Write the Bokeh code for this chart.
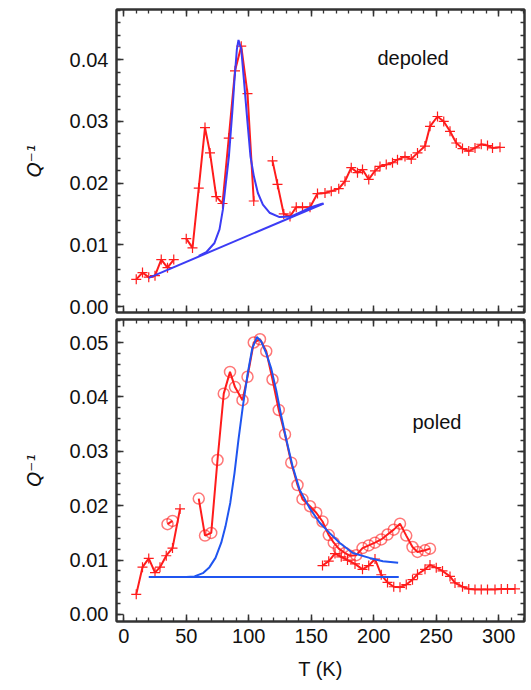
from bokeh.plotting import figure
from bokeh.layouts import column
from bokeh.models import (LinearAxis, SingleIntervalTicker, PrintfTickFormatter,
                          CustomJSTickFormatter, Range1d, Label)
from bokeh.embed import file_html
from bokeh.resources import INLINE

# ---------------- depoled (top panel) ----------------
dep_T1 = [10, 15, 20, 25, 30, 35, 40]
dep_Q1 = [0.0044, 0.0055, 0.00475, 0.0050, 0.0076, 0.0063, 0.0076]
dep_T2 = [50, 55, 60, 65, 69, 74, 79, 84, 89, 94, 99, 104]
dep_Q2 = [0.0110, 0.0095, 0.0192, 0.0290, 0.0249, 0.0178, 0.0167, 0.0273,
          0.0382, 0.0422, 0.0345, 0.0171]
dep_T3 = [119, 123, 128, 133, 138, 143, 149, 155, 161, 166, 172, 177, 182,
          187, 191, 196, 201, 205, 210, 215, 219, 225, 230, 235, 241, 245,
          251, 256, 261, 266, 271, 276, 281, 286, 291, 295, 301]
dep_Q3 = [0.0236, 0.0198, 0.0150, 0.0146, 0.0161, 0.0161, 0.0161, 0.0183,
          0.0184, 0.0187, 0.0191, 0.0203, 0.0225, 0.0217, 0.0222, 0.0206,
          0.0220, 0.0227, 0.0230, 0.0233, 0.0238, 0.0243, 0.0239, 0.0249,
          0.0260, 0.0292, 0.0308, 0.0300, 0.0284, 0.0265, 0.0256, 0.0252,
          0.0257, 0.0263, 0.0261, 0.0257, 0.0258]
dep_base_T = [20, 160]
dep_base_Q = [0.00465, 0.0167]
dep_fit_T = [60, 66, 72.6, 76.6, 79.3, 81.4, 84.1, 86.8, 88.6, 90.5, 91.8,
             94, 96.1, 98.8, 101.4, 104.1, 107.3, 111.3, 116.6, 124.6, 134,
             140.6, 148.7, 159.3]
dep_fit_Q = [0.0082, 0.0088, 0.0103, 0.0125, 0.0157, 0.0195, 0.0243, 0.0314,
             0.0368, 0.0417, 0.0432, 0.0417, 0.0368, 0.0303, 0.0243, 0.0211,
             0.0184, 0.0165, 0.0152, 0.0145, 0.0146, 0.0152, 0.0160, 0.0167]

# ---------------- poled (bottom panel) ----------------
pol_plus_T1 = [10, 15, 20, 25, 29, 34, 39, 45]
pol_plus_Q1 = [0.0037, 0.0087, 0.0103, 0.0077, 0.0087, 0.0108, 0.0122, 0.0194]
pol_circ_T1 = [35, 39]
pol_circ_Q1 = [0.0166, 0.0172]
pol_circ_T2 = [60, 65, 70, 75, 80, 85, 89, 95, 99, 104, 109, 114, 119, 124,
               129, 134, 139, 143, 149, 154, 159, 164, 168, 172, 177, 181,
               186, 191, 196, 201, 206, 211, 216, 221, 226, 231, 235, 241, 245]
pol_circ_Q2 = [0.0213, 0.0145, 0.0150, 0.0284, 0.0406, 0.0446, 0.0418, 0.0394,
               0.0437, 0.0500, 0.0506, 0.0484, 0.0432, 0.0376, 0.0331, 0.0279,
               0.0238, 0.0212, 0.0199, 0.0187, 0.0171, 0.0146, 0.0132, 0.0121,
               0.0113, 0.0108, 0.0109, 0.0122, 0.0127, 0.0132, 0.0138, 0.0147,
               0.0156, 0.0167, 0.0145, 0.0124, 0.0115, 0.0118, 0.0121]
pol_plus_T2 = [159, 164, 169, 174, 179, 185, 191, 196, 201, 206, 211, 216,
               221, 226, 231, 235, 241, 245, 250, 255, 261, 265, 271, 276,
               281, 286, 291, 297, 302, 307, 313]
pol_plus_Q2 = [0.0090, 0.0098, 0.0112, 0.0106, 0.0100, 0.0093, 0.0083, 0.0090,
               0.0102, 0.0073, 0.0059, 0.0051, 0.0050, 0.0055, 0.0064, 0.0074,
               0.0083, 0.0091, 0.0086, 0.0080, 0.0070, 0.0058, 0.0051, 0.0047,
               0.0046, 0.0046, 0.0046, 0.0046, 0.0047, 0.0047, 0.0047]
pol_base_T = [20, 220]
pol_base_Q = [0.0069, 0.0069]
pol_fit_T = [50, 56.6, 63.3, 68.6, 73.4, 78, 81.4, 85.2, 88.6, 91.8, 95.3,
             99.3, 102.8, 106.5, 110, 114, 118, 122, 126, 130, 135, 140.6,
             148.6, 156.6, 164.6, 172.6, 183.3, 196.6, 207.3, 219.5]
pol_fit_Q = [0.0069, 0.0070, 0.0076, 0.0087, 0.0104, 0.0132, 0.0162, 0.0205,
             0.0260, 0.0322, 0.0383, 0.0445, 0.0489, 0.0510, 0.0502, 0.0480,
             0.0452, 0.0412, 0.0365, 0.0322, 0.0273, 0.0230, 0.0196, 0.0169,
             0.0150, 0.0132, 0.0113, 0.0104, 0.0098, 0.0095]

x_ticks_major = 50
y_ticks_major = 0.01

RED = "#ff1c1c"
FONT = "Liberation Sans"
EDGE = "#333333"


def style_axis(ax, labels):
    ax.major_tick_in = 7
    ax.major_tick_out = 0
    ax.minor_tick_in = 4
    ax.minor_tick_out = 0
    ax.major_tick_line_color = EDGE
    ax.minor_tick_line_color = EDGE
    ax.major_tick_line_width = 1.5
    ax.minor_tick_line_width = 1.3
    ax.axis_line_color = EDGE
    ax.axis_line_width = 2
    if labels:
        ax.major_label_text_font = FONT
        ax.major_label_text_font_size = "20px"
        ax.major_label_text_color = "#111111"
        ax.axis_label_text_font = FONT
        ax.axis_label_text_font_size = "20px"
        ax.axis_label_text_color = "#111111"
    else:
        ax.formatter = CustomJSTickFormatter(code="return ''")
        ax.major_label_standoff = 0
        ax.axis_label = None


def make_fig(yr, frame_h, top, bottom, xlabels):
    p = figure(frame_width=408, frame_height=frame_h,
               x_range=Range1d(-5.8, 320.6), y_range=Range1d(*yr),
               output_backend="svg", toolbar_location=None,
               x_axis_location=None, y_axis_location=None,
               min_border_left=116, min_border_right=3,
               min_border_top=top, min_border_bottom=bottom)
    p.grid.visible = False
    p.outline_line_color = EDGE
    p.outline_line_width = 2
    p.background_fill_color = "white"
    p.border_fill_color = "white"

    xt = SingleIntervalTicker(interval=x_ticks_major, num_minor_ticks=5)
    yt = SingleIntervalTicker(interval=y_ticks_major, num_minor_ticks=5)

    left = LinearAxis(ticker=yt, formatter=PrintfTickFormatter(format="%.2f"))
    style_axis(left, True)
    left.major_label_standoff = 8
    left.axis_label = "Q⁻¹"
    left.axis_label_text_font = "DejaVu Sans"
    left.axis_label_text_font_size = "19px"
    left.axis_label_text_font_style = "italic"
    left.axis_label_standoff = 22
    p.add_layout(left, "left")

    right = LinearAxis(ticker=yt)
    style_axis(right, False)
    p.add_layout(right, "right")

    above = LinearAxis(ticker=xt)
    style_axis(above, False)
    p.add_layout(above, "above")

    below = LinearAxis(ticker=xt)
    if xlabels:
        style_axis(below, True)
        below.major_label_standoff = 7
        below.axis_label = "T (K)"
        below.axis_label_standoff = 12
        below.axis_label_text_font_style = "normal"
    else:
        style_axis(below, False)
    p.add_layout(below, "below")
    return p


# top panel
p1 = make_fig((-0.00097, 0.04814), 303, 9, 6, False)
for T, Q in ((dep_T1, dep_Q1), (dep_T2, dep_Q2), (dep_T3, dep_Q3)):
    p1.line(T, Q, line_color=RED, line_width=2)
    p1.scatter(T, Q, marker="cross", size=10, line_color=RED, line_width=1.2)
p1.line(dep_base_T, dep_base_Q, line_color="#3c3cf5", line_width=2)
p1.line(dep_fit_T, dep_fit_Q, line_color="#3c3cf5", line_width=2)
p1.add_layout(Label(x=203, y=0.0402, text="depoled", text_font=FONT,
                    text_font_size="20px", text_baseline="middle",
                    text_color="#111111"))

# bottom panel
p2 = make_fig((-0.00129, 0.05423), 302, 1, 0, True)
for T, Q in ((pol_plus_T1, pol_plus_Q1), (pol_plus_T2, pol_plus_Q2)):
    p2.line(T, Q, line_color=RED, line_width=2)
    p2.scatter(T, Q, marker="cross", size=10, line_color=RED, line_width=1.2)
for T, Q in ((pol_circ_T1, pol_circ_Q1), (pol_circ_T2, pol_circ_Q2)):
    p2.line(T, Q, line_color=RED, line_width=2)
    p2.scatter(T, Q, marker="circle", size=11, fill_color=None,
               line_color=RED, line_alpha=0.6, line_width=1.5)
p2.line(pol_base_T, pol_base_Q, line_color="#1f55f0", line_width=2)
p2.line(pol_fit_T, pol_fit_Q, line_color="#1f55f0", line_width=2)
p2.add_layout(Label(x=231, y=0.0353, text="poled", text_font=FONT,
                    text_font_size="20px", text_baseline="middle",
                    text_color="#111111"))

layout = column(p1, p2, spacing=0)
open("out.html", "w").write(file_html(layout, INLINE))
